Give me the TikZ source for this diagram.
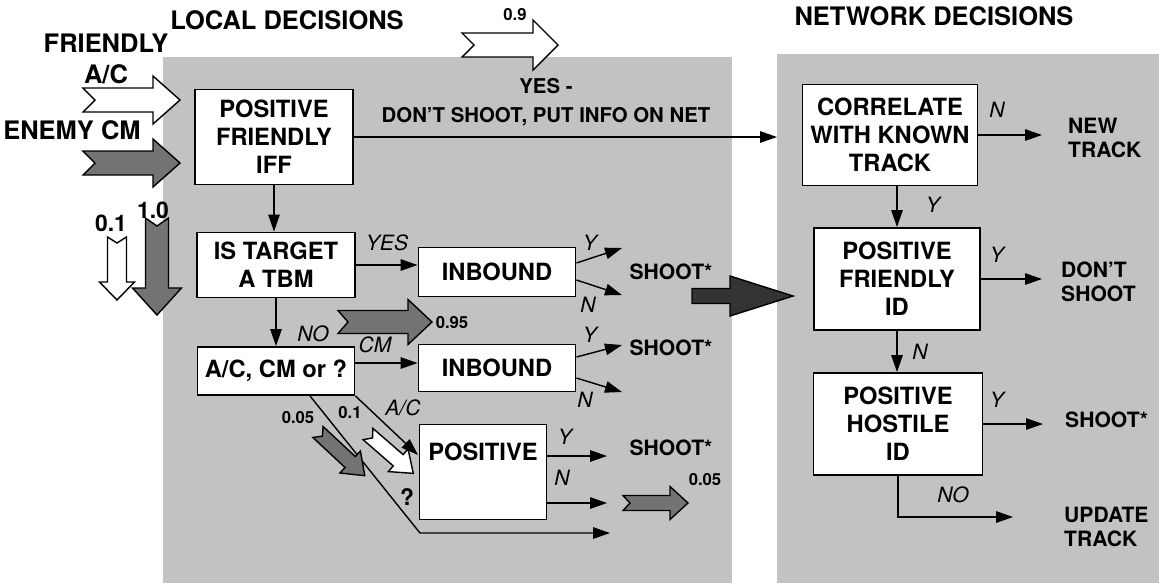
\documentclass[tikz,border=0pt]{standalone}
\usepackage{fontspec}
\setmainfont{TeX Gyre Heros}
\usetikzlibrary{arrows.meta,calc}

\tikzset{
  panel/.style={fill=black!24},
  boxfont/.style={font=\fontsize{13.5}{16}\selectfont\bfseries},
  box/.style={draw, fill=white, line width=1.1pt, align=center, inner sep=1pt, boxfont},
  hd/.style={font=\fontsize{14.5}{18}\selectfont\bfseries, align=center},
  res/.style={font=\fontsize{12}{14}\selectfont\bfseries, align=left},
  lbl/.style={font=\fontsize{12}{14}\selectfont\itshape},
  val/.style={font=\fontsize{9.5}{11}\selectfont\bfseries},
  conn/.style={line width=0.8pt, -{Triangle[length=3.4mm,width=2.3mm]}},
}

% fat arrow: position, angle, length, shaft, head, head length, notch, fill
\newcommand{\fatarrow}[8]{%
  \draw[fill=#8, line width=0.8pt, line join=miter, shift={#1}, rotate=#2]
    (0,-#4) -- (#3-#6,-#4) -- (#3-#6,-#5) -- (#3,0) -- (#3-#6,#5)
    -- (#3-#6,#4) -- (0,#4) -- (#7,0) -- cycle;}

\begin{document}
\begin{tikzpicture}[x=0.02cm,y=-0.02cm]
  \useasboundingbox (0,0) rectangle (1159,583);

  % panels
  \fill[panel] (163,57) rectangle (732,583);
  \fill[panel] (777,54) rectangle (1159,583);

  % headings
  \node[hd] (loc) at (287,20) {LOCAL DECISIONS};
  \node[hd] (net) at (934,16) {NETWORK DECISIONS};
  \node[hd] (fac) at (106,59) {FRIENDLY\\A/C};
  \node[hd] (ecm) at (72,130) {ENEMY CM};

  % incoming flows
  \fatarrow{(83,100)}{0}{97}{12}{24}{27}{12}{white}
  \fatarrow{(83,163)}{0}{97}{12}{24}{27}{12}{black!55}
  \fatarrow{(462,45)}{0}{96}{12}{25}{25}{12}{white}
  \node[val] (p09) at (515,15) {0.9};
  \fatarrow{(117,237)}{-90}{63}{9.5}{17.5}{18}{6}{white}
  \fatarrow{(157,218)}{-90}{97}{11.5}{24.5}{27}{8}{black!55}
  \node[res, font=\fontsize{13}{15}\selectfont\bfseries] (p01) at (111,223) {0.1};
  \node[res, font=\fontsize{13}{15}\selectfont\bfseries] (p10) at (153,210) {1.0};

  % local decisions
  \node[box, minimum width=3.16cm, minimum height=1.9cm] (iff) at (274,137) {POSITIVE\\FRIENDLY\\IFF};
  \node[box, minimum width=3.16cm, minimum height=1.3cm] (tbm) at (276,265) {IS TARGET\\A TBM};
  \node[box, minimum width=3.14cm, minimum height=0.96cm] (acq) at (276,371) {A/C, CM or ?};
  \node[box, minimum width=3.14cm, minimum height=0.98cm] (inb1) at (497,272) {INBOUND};
  \node[box, minimum width=3.14cm, minimum height=0.94cm] (inb2) at (497,368) {INBOUND};
  \node[box, minimum width=2.54cm, minimum height=1.9cm,
        label={[boxfont, anchor=north, yshift=-0.26cm]north:POSITIVE}] (pos) at (483,472) {};

  \node[res, align=center, font=\fontsize{11.6}{16.4}\selectfont\bfseries] (yesnet) at (546,102)
    {YES -\\DON'T SHOOT, PUT INFO ON NET};

  \coordinate (netin) at (777,137);
  \coordinate (cmout) at ($(acq.east)+(0,-8)$);
  \coordinate (qout) at ($(acq.south)+(34,0)$);
  \coordinate (acin) at (418,455);
  \coordinate (qbend) at (420,533);
  \coordinate (qend) at (610,533);
  \coordinate (i1y) at (622,248);
  \coordinate (i1n) at (622,295);
  \coordinate (i2y) at (622,345);
  \coordinate (i2n) at (622,392);
  \coordinate (py) at (607,456);
  \coordinate (pn) at (607,503);

  \draw[conn] (iff.east) -- (netin);
  \draw[conn] (iff.south) -- (iff.south |- tbm.north);
  \draw[conn] (tbm.south) -- (tbm.south |- acq.north);
  \draw[conn] (tbm.east) -- (tbm.east -| inb1.west);
  \draw[conn] (cmout) -- (cmout -| inb2.west);
  \draw[conn] (acq.south east) -- (acin);
  \draw[conn] (qout) -- (qbend) -- (qend);
  \draw[conn] ($(inb1.east)+(0,-9)$) -- (i1y);
  \draw[conn] ($(inb1.east)+(0,8)$) -- (i1n);
  \draw[conn] ($(inb2.east)+(0,-11)$) -- (i2y);
  \draw[conn] ($(inb2.east)+(0,10)$) -- (i2n);
  \draw[conn] ($(pos.east)+(0,-16)$) -- (py);
  \draw[conn] ($(pos.east)+(0,31)$) -- (pn);

  \node[lbl] (lyes) at (387,243) {YES};
  \node[lbl] (lno) at (313,334) {NO};
  \node[lbl] (lcm) at (375,345) {CM};
  \node[lbl] (lac) at (403,408) {A/C};
  \node[lbl] (y1) at (590,243) {Y};
  \node[lbl] (n1) at (588,305) {N};
  \node[lbl] (y2) at (590,335) {Y};
  \node[lbl] (n2) at (585,400) {N};
  \node[lbl] (y3) at (565,437) {Y};
  \node[lbl] (n3) at (562,478) {N};
  \node[res, font=\fontsize{13}{15}\selectfont\bfseries] (lq) at (407,497) {?};

  \node[res] (sh1) at (671,272) {SHOOT*};
  \node[res] (sh2) at (671,348) {SHOOT*};
  \node[res] (sh3) at (671,448) {SHOOT*};

  % split flows
  \fatarrow{(338,322)}{0}{94}{11.5}{22.5}{24}{10}{black!55}
  \node[val] (p095) at (452,323) {0.95};
  \fatarrow{(318,432)}{-43}{64}{7.5}{15}{20}{6}{black!55}
  \node[val] (p005a) at (298,418) {0.05};
  \fatarrow{(368,434)}{-41}{60}{7.5}{15}{20}{6}{white}
  \node[val] (p01b) at (350,413) {0.1};
  \fatarrow{(623,503)}{0}{65}{7.5}{16.5}{18}{7}{black!55}
  \node[val] (p005b) at (705,480) {0.05};
  \fatarrow{(692,296)}{0}{101}{7.5}{20}{63}{0}{black!80}

  % network decisions
  \node[box, minimum width=3.5cm, minimum height=2.02cm] (corr) at (890,135) {CORRELATE\\WITH KNOWN\\TRACK};
  \node[box, minimum width=3.32cm, minimum height=2.04cm] (pfid) at (897,279) {POSITIVE\\FRIENDLY\\ID};
  \node[box, minimum width=3.38cm, minimum height=2.04cm] (phid) at (898,424) {POSITIVE\\HOSTILE\\ID};

  \coordinate (ntr) at (1042,135);
  \coordinate (dsh) at (1042,279);
  \coordinate (sht) at (1043,424);
  \coordinate (upd) at (1013,517);

  \draw[conn] (corr.east) -- (ntr);
  \draw[conn] (corr.south -| pfid.north) -- (pfid.north);
  \draw[conn] (pfid.east) -- (dsh);
  \draw[conn] (pfid.south) -- (pfid.south |- phid.north);
  \draw[conn] (phid.east) -- (sht);
  \draw[conn] (phid.south) |- (upd);

  \node[lbl] (cn) at (997,110) {N};
  \node[lbl] (cy) at (933,205) {Y};
  \node[lbl] (fy) at (997,255) {Y};
  \node[lbl] (fn) at (920,352) {N};
  \node[lbl] (hy) at (997,400) {Y};
  \node[lbl] (hno) at (953,495) {NO};

  \node[res, anchor=west] (newtr) at (1062,138) {NEW\\TRACK};
  \node[res, anchor=west] (dontsh) at (1055,282) {DON'T\\SHOOT};
  \node[res, anchor=west] (shoot4) at (1059,420) {SHOOT*};
  \node[res, anchor=west] (updtr) at (1058,527) {UPDATE\\TRACK};
\end{tikzpicture}
\end{document}
